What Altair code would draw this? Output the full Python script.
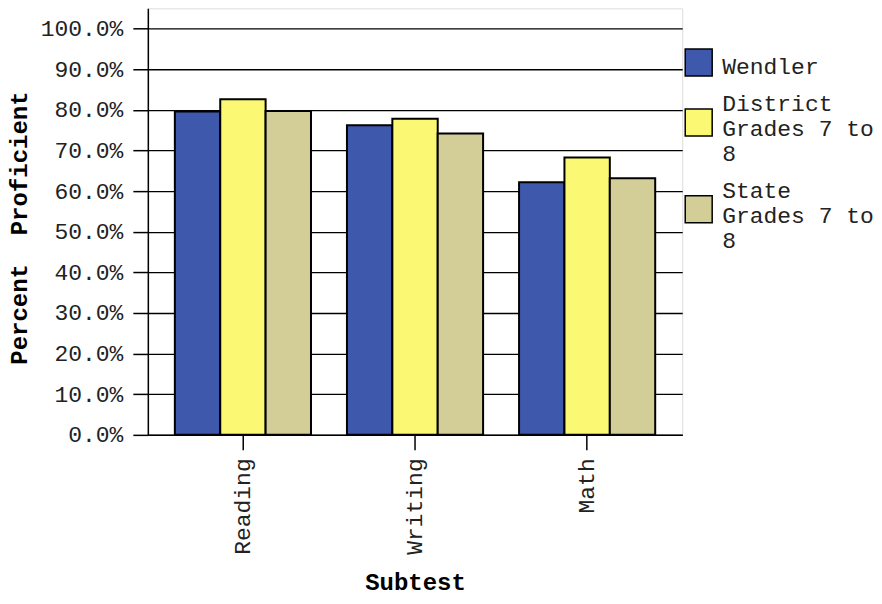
import altair as alt
import pandas as pd

subtests = ["Reading", "Writing", "Math"]
groups = ["Wendler", "District\nGrades 7 to\n8", "State\nGrades 7 to\n8"]
wendler = [79.6, 76.2, 62.2]
district = [82.6, 77.8, 68.3]
state = [79.7, 74.2, 63.2]
colors = ["#3E58AC", "#FBF873", "#D3CE98"]
y_ticks = [0, 10, 20, 30, 40, 50, 60, 70, 80, 90, 100]

rows = []
for i, s in enumerate(subtests):
    for g, vals in zip(groups, [wendler, district, state]):
        rows.append({"Subtest": s, "Group": g, "Percent": vals[i]})
df = pd.DataFrame(rows)

FONT = "Courier New, Liberation Mono, monospace"

chart = alt.Chart(df).mark_bar(stroke="black", strokeWidth=2, opacity=1).encode(
    x=alt.X(
        "Subtest:N",
        sort=subtests,
        title="Subtest",
        scale=alt.Scale(paddingInner=0.209, paddingOuter=0.157),
        axis=alt.Axis(
            labelAngle=270, tickSize=15, tickWidth=1.5, tickColor="black",
            labelPadding=8, labelFont=FONT, labelFontSize=23, labelColor="#222",
            domainColor="black", domainWidth=1.5,
            titleFont=FONT, titleFontSize=24, titleFontWeight="bold", titleColor="black",
            titleX=267.5, titleY=148, titleBaseline="middle", titleAlign="center",
        ),
    ),
    xOffset=alt.XOffset("Group:N", sort=groups,
                        scale=alt.Scale(domain=groups, paddingInner=0, paddingOuter=0)),
    y=alt.Y(
        "Percent:Q",
        title="Percent\u00a0\u00a0Proficient",
        scale=alt.Scale(domain=[0, 105], nice=False),
        axis=alt.Axis(
            values=y_ticks, labelExpr="format(datum.value, '.1f') + '%'",
            tickSize=15, tickWidth=1.5, tickColor="black", labelPadding=10,
            labelFont=FONT, labelFontSize=23, labelColor="#222",
            domainColor="black", domainWidth=1.5,
            grid=True, gridColor="black", gridWidth=1.3,
            titleFont=FONT, titleFontSize=24, titleFontWeight="bold", titleColor="black",
            titleX=-128, titleY=219.5, titleAngle=270, titleBaseline="middle", titleAlign="center",
        ),
    ),
    color=alt.Color(
        "Group:N",
        sort=groups,
        scale=alt.Scale(domain=groups, range=colors),
        legend=alt.Legend(
            title=None, orient="none", legendX=537, legendY=33, padding=0,
            symbolType="M-1,-0.5L1,-0.5L1,1.5L-1,1.5Z", symbolSize=729,
            symbolStrokeColor="black", symbolStrokeWidth=1.5, symbolOpacity=1,
            labelOffset=9,
            labelFont=FONT, labelFontSize=23, labelColor="#222", labelLimit=300,
            labelExpr="split(datum.label, '\\n')",
            labelBaseline={"expr": "length(split(datum.label, '\\n')) > 1 ? 'bottom' : 'top'"},
            rowPadding=13,
        ),
    ),
).properties(
    width=535,
    height=427,
    autosize=alt.AutoSizeParams(type="none"),
    padding={"left": 140, "top": 0, "right": 192, "bottom": 161},
).configure_view(
    fill="#F0F0F0", stroke="black", strokeWidth=1.5
).configure(background="white")

chart.save("out.html", embed_options={"renderer": "svg", "actions": False})
